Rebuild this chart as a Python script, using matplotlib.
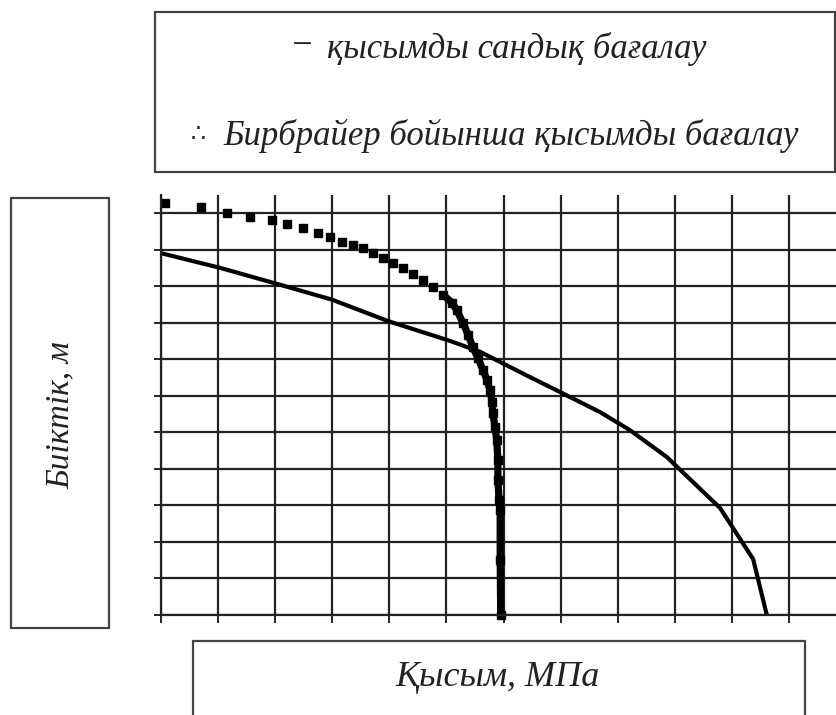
import matplotlib.pyplot as plt
from matplotlib.patches import Rectangle

# --------------------- Data ----------------------------
# numerical estimate (solid line): pressure vs. height, grid units
press_num = [0.00, 1.03, 2.03, 2.99, 3.98, 5.06, 5.59, 6.46, 6.99, 7.69,
             8.21, 8.86, 9.79, 10.37, 10.61]
height_num = [9.90, 9.50, 9.06, 8.63, 8.04, 7.50, 7.20, 6.51, 6.10, 5.55,
              5.06, 4.32, 2.93, 1.53, 0.00]

# Birbrayer estimate (square markers)
press_bb = [0.07, 0.70, 1.16, 1.56, 1.94, 2.20, 2.49, 2.75, 2.96, 3.17,
            3.36, 3.54, 3.71, 3.89, 4.06, 4.24, 4.41, 4.59, 4.76, 4.94,
            5.10, 5.18, 5.29, 5.38, 5.46, 5.55, 5.64, 5.71, 5.76, 5.80,
            5.81, 5.85, 5.88, 5.90, 5.90, 5.92, 5.94, 5.94, 5.95]
height_bb = [11.27, 11.16, 11.00, 10.89, 10.81, 10.70, 10.59, 10.45, 10.34, 10.21,
             10.12, 10.04, 9.90, 9.77, 9.63, 9.49, 9.33, 9.17, 8.97, 8.76,
             8.54, 8.34, 7.99, 7.66, 7.33, 7.03, 6.70, 6.43, 6.16, 5.83,
             5.53, 5.14, 4.79, 4.24, 3.69, 3.15, 2.87, 1.50, 0.00]
dense_from = 19  # below this point the markers merge into a solid band

x_ticks = list(range(0, 12))
y_ticks = list(range(0, 12))

legend_marks = ["\u2212", "\u2234"]
legend_labels = ["қысымды сандық бағалау",
                 "Бирбрайер бойынша қысымды бағалау"]
x_label = "Қысым, МПа"
y_label = "Биіктік, м"

# --------------------- Plotting ------------------------
W, H = 837, 715
fig = plt.figure(figsize=(W / 100, H / 100), dpi=100)
fonts = ["Liberation Serif", "DejaVu Serif", "DejaVu Sans"]
txt = dict(style="italic", family=fonts, color="#222222",
           ha="center", va="center")

ax = fig.add_axes([161 / W, 1 - 615 / H, (W - 161) / W, (615 - 195) / H])
ax.set_xlim(0, (W - 161) / 57.1)
ax.set_ylim(0, (615 - 195) / 36.55)
ax.set_xticks(x_ticks)
ax.set_yticks(y_ticks)
ax.set_xticklabels([])
ax.set_yticklabels([])
ax.grid(True, color="#222222", linewidth=1.6)
ax.set_axisbelow(True)
for side in ("top", "right"):
    ax.spines[side].set_visible(False)
for side in ("left", "bottom"):
    ax.spines[side].set_color("#222222")
    ax.spines[side].set_linewidth(1.6)
ax.tick_params(axis="x", length=6, width=1.4, color="#222222")
ax.tick_params(axis="y", length=5, width=1.4, color="#222222")

ax.plot(press_num, height_num, color="black", linewidth=3.0,
        solid_capstyle="butt", solid_joinstyle="round", clip_on=False)
ax.plot(press_bb, height_bb, linestyle="none", marker="s", markersize=5.6,
        color="black", clip_on=False)
ax.plot(press_bb[dense_from:], height_bb[dense_from:], color="black",
        linewidth=5.2, solid_capstyle="butt", clip_on=False)


def frame(x0, y0, x1, y1):
    fig.patches.append(Rectangle((x0 / W, 1 - y1 / H), (x1 - x0) / W, (y1 - y0) / H,
                                 transform=fig.transFigure, fill=False,
                                 edgecolor="#444444", linewidth=1.6))


# legend box
frame(155, 12, 835, 172)
fig.text(302 / W, 1 - 47 / H, legend_marks[0], fontsize=26, **txt)
fig.text(517 / W, 1 - 49 / H, legend_labels[0], fontsize=25, **txt)
fig.text(198 / W, 1 - 136 / H, legend_marks[1], fontsize=17, **txt)
fig.text(511 / W, 1 - 136 / H, legend_labels[1], fontsize=25, **txt)

# axis label boxes
frame(11, 198, 109, 628)
fig.text(60 / W, 1 - 415 / H, y_label, rotation=90, fontsize=24, **txt)
frame(193, 641, 805, 725)
fig.text(498 / W, 1 - 677 / H, x_label, fontsize=26, **txt)

fig.savefig("out.png", dpi=100)
